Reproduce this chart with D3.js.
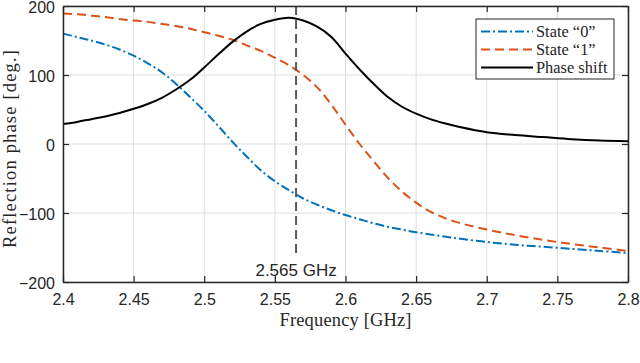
<!DOCTYPE html>
<html>
<head>
<meta charset="utf-8">
<script src="https://cdn.jsdelivr.net/npm/d3@7"></script>
<style>
    body { margin: 0; background: #fff; }
    svg { display: block; }
    .tick text { font-family: "Liberation Sans", Arial, sans-serif; font-size: 16px; fill: #262626; }
    .serif { font-family: "Liberation Serif", "Times New Roman", serif; fill: #262626; }
</style>
</head>
<body>
<svg id="chart" width="640" height="363"></svg>
<script>
// Data
var freq = [2.40, 2.41, 2.42, 2.43, 2.44, 2.45, 2.46, 2.47, 2.48, 2.49, 2.50, 2.51, 2.52, 2.53, 2.54, 2.55,
            2.56, 2.57, 2.58, 2.59, 2.60, 2.61, 2.62, 2.63, 2.64, 2.65, 2.66, 2.67, 2.68,
            2.70, 2.72, 2.74, 2.76, 2.78, 2.80];
var state0 = [160, 155, 150, 144, 137, 128, 117, 104, 87, 68, 48, 26, 3, -18, -38, -54,
              -67, -79, -88, -96, -103, -109, -115, -120, -124, -128, -131, -134, -137,
              -142, -146, -149, -152, -155, -158];
var state1 = [189, 188, 186, 184, 181, 179, 177, 174, 171, 167, 162, 157, 151, 143, 135, 125,
              114, 100, 82, 57, 28, 0, -25, -49, -69, -85, -98, -107, -114,
              -124, -132, -139, -145, -150, -155];
var phaseShift = [29, 32, 36, 40, 45, 51, 58, 67, 79, 93, 111, 130, 148, 163, 174, 180,
                  183, 179, 170, 155, 131, 108, 87, 68, 54, 44, 36, 30, 25,
                  17, 13, 10, 7, 5, 4];

var xTicks = [2.4, 2.45, 2.5, 2.55, 2.6, 2.65, 2.7, 2.75, 2.8];
var yTicks = [-200, -100, 0, 100, 200];
var marker = 2.565;

var seriesNames = ['State \u201c0\u201d', 'State \u201c1\u201d', 'Phase shift'];
var seriesValues = [state0, state1, phaseShift];
var seriesColours = ['#0072BD', '#D95319', '#000000'];
var seriesDash = ['9,3,2,3', '9,5', null];

var margin = {left: 63, right: 12, top: 6, bottom: 81};
var W = 640, H = 363;

var svg = d3.select('#chart');

var x = d3.scaleLinear().domain([2.4, 2.8]).range([margin.left, W - margin.right]);
var y = d3.scaleLinear().domain([-200, 200]).range([H - margin.bottom, margin.top]);

// Grid lines
var grid = svg.append('g');
grid.selectAll('line.gx').data(xTicks).enter().append('line')
    .attr('x1', function(d) { return x(d); }).attr('x2', function(d) { return x(d); })
    .attr('y1', y(-200)).attr('y2', y(200))
    .attr('stroke', '#dedede').attr('stroke-width', 1);
grid.selectAll('line.gy').data(yTicks).enter().append('line')
    .attr('y1', function(d) { return y(d); }).attr('y2', function(d) { return y(d); })
    .attr('x1', x(2.4)).attr('x2', x(2.8))
    .attr('stroke', '#dedede').attr('stroke-width', 1);

// Curves
var line = d3.line()
    .x(function(d) { return x(d[0]); })
    .y(function(d) { return y(d[1]); })
    .curve(d3.curveCatmullRom.alpha(0.5));

seriesValues.forEach(function(vals, i) {
    var pts = freq.map(function(f, k) { return [f, vals[k]]; });
    svg.append('path')
        .datum(pts)
        .attr('d', line)
        .attr('fill', 'none')
        .attr('stroke', seriesColours[i])
        .attr('stroke-width', 2)
        .attr('stroke-dasharray', seriesDash[i]);
});

// Marker line at 2.565 GHz
svg.append('line')
    .attr('x1', x(marker)).attr('x2', x(marker))
    .attr('y1', y(200)).attr('y2', 256)
    .attr('stroke', '#5a5a5a').attr('stroke-width', 2)
    .attr('stroke-dasharray', '9,5');
svg.append('text')
    .attr('x', x(marker)).attr('y', 276)
    .attr('text-anchor', 'middle')
    .style('font-family', '"Liberation Sans", Arial, sans-serif')
    .style('font-size', '17px')
    .attr('fill', '#262626')
    .text(marker + ' GHz');

// Axes (box with inward ticks on all sides)
var axisStyle = function(g) {
    g.select('.domain').attr('stroke', '#262626').attr('stroke-width', 1.5);
    g.selectAll('.tick line').attr('stroke', '#262626').attr('stroke-width', 1.2);
};
svg.append('g')
    .attr('transform', 'translate(0,' + y(-200) + ')')
    .call(d3.axisBottom(x).tickValues(xTicks).tickSizeInner(-6).tickSizeOuter(0).tickPadding(12)
        .tickFormat(function(d) { return d3.format('')(+d.toFixed(2)); }))
    .call(axisStyle);
svg.append('g')
    .attr('transform', 'translate(0,' + y(200) + ')')
    .call(d3.axisTop(x).tickValues(xTicks).tickSizeInner(-6).tickSizeOuter(0).tickFormat(''))
    .call(axisStyle);
svg.append('g')
    .attr('transform', 'translate(' + x(2.4) + ',0)')
    .call(d3.axisLeft(y).tickValues(yTicks).tickSizeInner(-6).tickSizeOuter(0).tickPadding(8))
    .call(axisStyle)
    .selectAll('.tick text').attr('dy', '0.4em');
svg.append('g')
    .attr('transform', 'translate(' + x(2.8) + ',0)')
    .call(d3.axisRight(y).tickValues(yTicks).tickSizeInner(-6).tickSizeOuter(0).tickFormat(''))
    .call(axisStyle);

// Axis labels
svg.append('text').attr('class', 'serif')
    .attr('x', (x(2.4) + x(2.8)) / 2).attr('y', 326)
    .attr('text-anchor', 'middle')
    .style('font-size', '18.5px')
    .attr('textLength', 132)
    .text('Frequency [GHz]');
svg.append('text').attr('class', 'serif')
    .attr('transform', 'translate(16,149) rotate(-90)')
    .attr('text-anchor', 'middle')
    .style('font-size', '18.5px')
    .attr('textLength', 198)
    .text('Reflection phase [deg.]');

// Legend
var legend = svg.append('g').attr('transform', 'translate(476,19)');
legend.append('rect')
    .attr('width', 138).attr('height', 60)
    .attr('fill', '#fff').attr('stroke', '#262626').attr('stroke-width', 1);
var rows = legend.selectAll('g.row').data(seriesNames).enter().append('g')
    .attr('transform', function(d, i) { return 'translate(0,' + (12.5 + i * 18) + ')'; });
rows.append('line')
    .attr('x1', 5).attr('x2', 57)
    .attr('stroke', function(d, i) { return seriesColours[i]; })
    .attr('stroke-width', 2)
    .attr('stroke-dasharray', function(d, i) { return seriesDash[i]; });
rows.append('text').attr('class', 'serif')
    .attr('x', 60).attr('y', 5)
    .style('font-size', '16.4px')
    .text(function(d) { return d; });
</script>
</body>
</html>
